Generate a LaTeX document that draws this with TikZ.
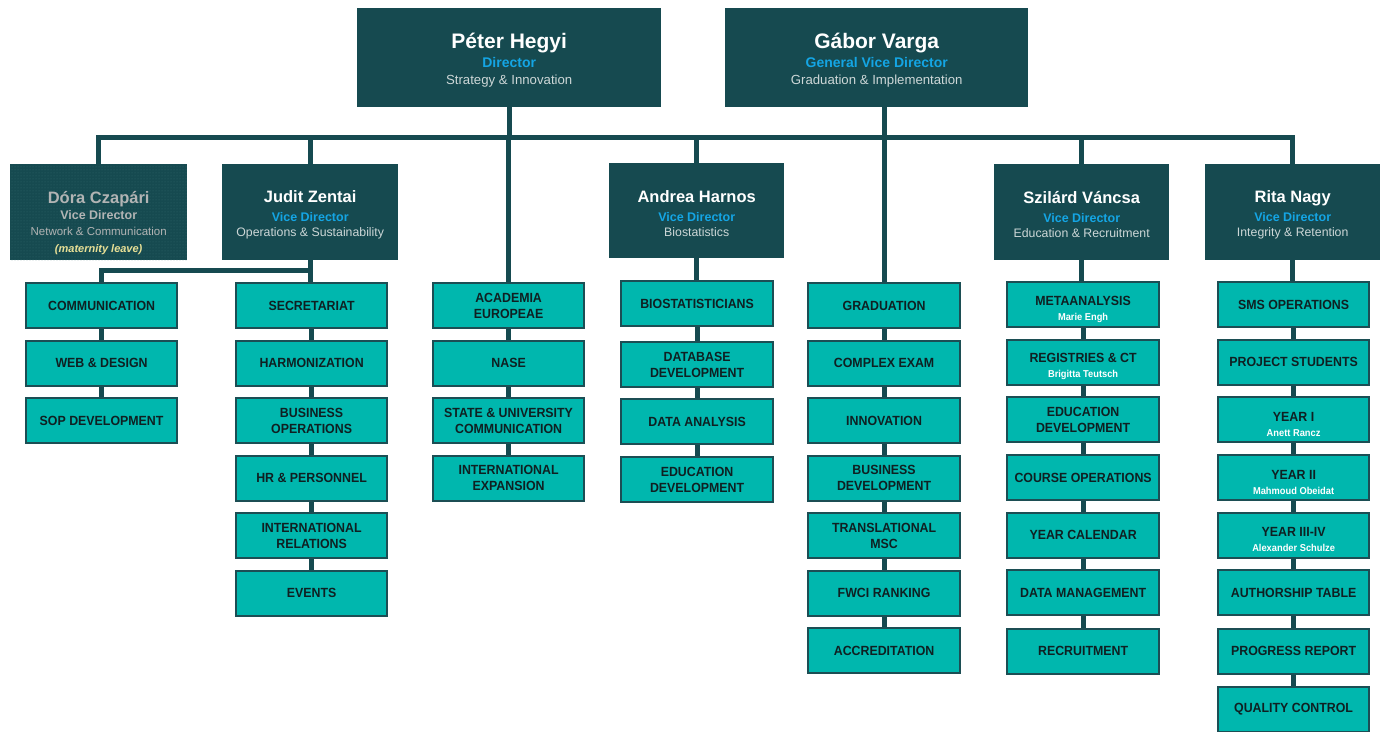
\documentclass[tikz,border=0pt]{standalone}
\usepackage{fontspec}
\setmainfont{Liberation Sans}
\newfontfamily\deptfont{Liberation Sans}[FakeStretch=0.93]
\usetikzlibrary{patterns}
\definecolor{dk}{RGB}{22,74,80}
\definecolor{tq}{RGB}{0,183,174}
\definecolor{tqb}{RGB}{28,78,84}
\definecolor{vblue}{RGB}{20,165,228}
\definecolor{subg}{RGB}{205,215,215}
\definecolor{dgray}{RGB}{178,180,180}
\definecolor{mleave}{RGB}{232,224,150}
\definecolor{pat}{RGB}{48,104,108}
\definecolor{dtext}{RGB}{15,32,34}
\newcommand\topname[1]{{\fontsize{21}{21}\selectfont\bfseries\rule{0pt}{21pt}#1}}
\newcommand\toprole[1]{{\color{vblue}\fontsize{14}{14}\selectfont\bfseries #1}}
\newcommand\topsub[1]{{\color{subg}\fontsize{13.2}{13.2}\selectfont #1}}
\newcommand\vname[1]{{\fontsize{16.5}{16.5}\selectfont\bfseries\rule{0pt}{17pt}#1}}
\newcommand\vrole[1]{{\color{vblue}\fontsize{12.5}{12.5}\selectfont\bfseries #1}}
\newcommand\vsub[1]{{\color{subg}\fontsize{12.3}{12.3}\selectfont #1}}
\newcommand\pname[1]{{\color{white}\fontsize{10}{10}\selectfont\bfseries #1}}
\newcommand\pline[1]{\rule{0pt}{18pt}#1}
\begin{document}
\begin{tikzpicture}[x=1pt,y=-1pt,
  topbox/.style={fill=dk, draw=none, inner sep=0pt, anchor=north west, align=center,
    text=white, minimum height=99pt, font=\fontsize{12}{17}\selectfont},
  vicebox/.style={fill=dk, draw=none, inner sep=0pt, anchor=north west, align=center,
    text=white, minimum height=96pt, minimum width=175pt, font=\fontsize{12}{16}\selectfont},
  dept/.style={fill=tq, draw=tqb, line width=2.2pt, inner sep=0pt, anchor=north west,
    align=center, minimum height=45pt, font=\deptfont\fontsize{13.3}{16}\selectfont\bfseries, text=dtext},
  conn/.style={draw=dk, line width=5pt},
]
\path[use as bounding box, fill=white] (0,0) rectangle (1387,731);

% top level
\node[topbox, minimum width=304pt] (peter) at (357,8)
  {\topname{Péter Hegyi}\\[2pt]\toprole{Director}\\\topsub{Strategy \& Innovation}};
\node[topbox, minimum width=303pt] (gabor) at (725,8)
  {\topname{Gábor Varga}\\[2pt]\toprole{General Vice Director}\\\topsub{Graduation \& Implementation}};

% vice directors
\node[vicebox, minimum width=177pt, postaction={pattern=dots, pattern color=pat}] (dora) at (10,164)
  {{\color{dgray}\fontsize{16.5}{16.5}\selectfont\bfseries\rule{0pt}{34pt}Dóra Czapári}\\{\color{dgray}\fontsize{12.5}{12.5}\selectfont\bfseries Vice Director}\\
   {\color{dgray}\fontsize{11.5}{11.5}\selectfont Network \& Communication}\\[1pt]
   {\color{mleave}\fontsize{11}{11}\selectfont\bfseries\itshape (maternity leave)}};
\node[vicebox, minimum width=176pt] (judit) at (222,164)
  {\vname{Judit Zentai}\\[3pt]\vrole{Vice Director}\\[-1pt]\vsub{Operations \& Sustainability}};
\node[vicebox, minimum height=95pt] (andrea) at (609,163)
  {\vname{Andrea Harnos}\\[3pt]\vrole{Vice Director}\\[-1pt]\vsub{Biostatistics}};
\node[vicebox] (szilard) at (994,164)
  {\vname{Szilárd Váncsa}\\[3pt]\vrole{Vice Director}\\[-1pt]\vsub{Education \& Recruitment}};
\node[vicebox] (rita) at (1205,164)
  {\vname{Rita Nagy}\\[3pt]\vrole{Vice Director}\\[-1pt]\vsub{Integrity \& Retention}};

% column 1
\begin{scope}[every node/.style={dept, minimum width=151pt}]
\node (c1a) at (25,282) {COMMUNICATION};
\node (c1b) at (25,339.5) {WEB \& DESIGN};
\node (c1c) at (25,397) {SOP DEVELOPMENT};
% column 2
\node (c2a) at (235,282) {SECRETARIAT};
\node (c2b) at (235,339.5) {HARMONIZATION};
\node (c2c) at (235,397) {BUSINESS\\OPERATIONS};
\node (c2d) at (235,454.5) {HR \& PERSONNEL};
\node (c2e) at (235,512) {INTERNATIONAL\\RELATIONS};
\node (c2f) at (235,569.5) {EVENTS};
% column 3
\node (c3a) at (432,282) {ACADEMIA\\EUROPEAE};
\node (c3b) at (432,339.5) {NASE};
\node (c3c) at (432,397) {STATE \& UNIVERSITY\\COMMUNICATION};
\node (c3d) at (432,454.5) {INTERNATIONAL\\EXPANSION};
\end{scope}
% column 4
\begin{scope}[every node/.style={dept, minimum width=152pt}]
\node (c4a) at (620,280) {BIOSTATISTICIANS};
\node (c4b) at (620,341) {DATABASE\\DEVELOPMENT};
\node (c4c) at (620,398) {DATA ANALYSIS};
\node (c4d) at (620,456) {EDUCATION\\DEVELOPMENT};
% column 5
\node (c5a) at (807,282) {GRADUATION};
\node (c5b) at (807,339.5) {COMPLEX EXAM};
\node (c5c) at (807,397) {INNOVATION};
\node (c5d) at (807,454.5) {BUSINESS\\DEVELOPMENT};
\node (c5e) at (807,512) {TRANSLATIONAL\\MSC};
\node (c5f) at (807,569.5) {FWCI RANKING};
\node (c5g) at (807,627) {ACCREDITATION};
% column 6
\node (c6a) at (1006,281) {\pline{METAANALYSIS}\\[-1pt]\pname{Marie Engh}};
\node (c6b) at (1006,338.5) {\pline{REGISTRIES \& CT}\\[-1pt]\pname{Brigitta Teutsch}};
\node (c6c) at (1006,396) {EDUCATION\\DEVELOPMENT};
\node (c6d) at (1006,454) {COURSE OPERATIONS};
\node (c6e) at (1006,511.5) {YEAR CALENDAR};
\node (c6f) at (1006,569) {DATA MANAGEMENT};
\node (c6g) at (1006,627.5) {RECRUITMENT};
\end{scope}
% column 7
\begin{scope}[every node/.style={dept, minimum width=151pt}]
\node (c7a) at (1217,281) {SMS OPERATIONS};
\node (c7b) at (1217,338.5) {PROJECT STUDENTS};
\node (c7c) at (1217,396) {\pline{YEAR I}\\[-1pt]\pname{Anett Rancz}};
\node (c7d) at (1217,454) {\pline{YEAR II}\\[-1pt]\pname{Mahmoud Obeidat}};
\node (c7e) at (1217,511.5) {\pline{YEAR III-IV}\\[-1pt]\pname{Alexander Schulze}};
\node (c7f) at (1217,569) {AUTHORSHIP TABLE};
\node (c7g) at (1217,627.5) {PROGRESS REPORT};
\node (c7h) at (1217,686) {QUALITY CONTROL};
\end{scope}

% connectors
\coordinate (busy) at (0,137);
\coordinate (jy) at (0,270);
\draw[conn] (peter.south) -- (peter.south |- busy);
\draw[conn] (c5a.north) -- (c5a.north |- gabor.south);
\draw[conn] (dora.north) |- (rita.north |- busy) -- (rita.north);
\draw[conn] (judit.north) -- (judit.north |- busy);
\draw[conn] (andrea.north) -- (andrea.north |- busy);
\draw[conn] (szilard.north) -- (szilard.north |- busy);
\draw[conn] (c3a.north) -- (c3a.north |- busy);
\draw[conn] (judit.south) -- (judit.south |- c2a.north);
\draw[conn] (judit.south |- jy) -| (c1a.north);
\draw[conn] (andrea.south) -- (andrea.south |- c4a.north);
\draw[conn] (szilard.south) -- (szilard.south |- c6a.north);
\draw[conn] (rita.south) -- (rita.south |- c7a.north);
\foreach \a/\b in {c1a/c1b,c1b/c1c,
  c2a/c2b,c2b/c2c,c2c/c2d,c2d/c2e,c2e/c2f,
  c3a/c3b,c3b/c3c,c3c/c3d,
  c4a/c4b,c4b/c4c,c4c/c4d,
  c5a/c5b,c5b/c5c,c5c/c5d,c5d/c5e,c5e/c5f,c5f/c5g,
  c6a/c6b,c6b/c6c,c6c/c6d,c6d/c6e,c6e/c6f,c6f/c6g,
  c7a/c7b,c7b/c7c,c7c/c7d,c7d/c7e,c7e/c7f,c7f/c7g,c7g/c7h}
  \draw[conn] (\a.south) -- (\b.north);
\end{tikzpicture}
\end{document}
